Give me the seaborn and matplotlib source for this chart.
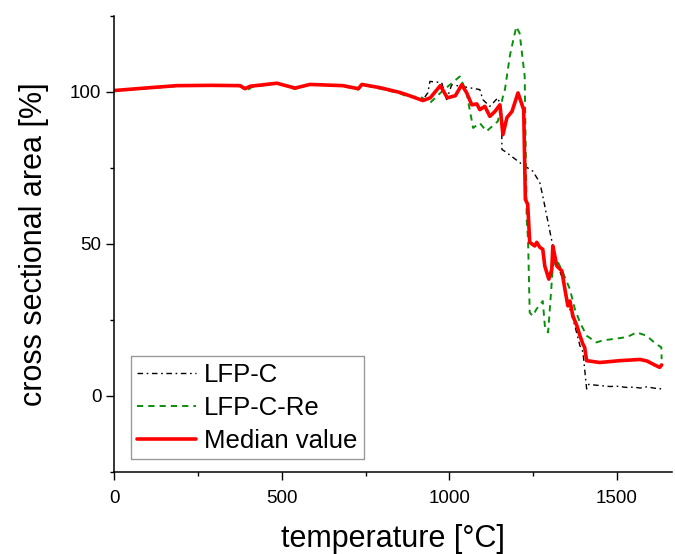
import matplotlib
matplotlib.use("Agg")
import matplotlib.pyplot as plt
import seaborn as sns
import pandas as pd

# ---------------- data ----------------
temp_c = [0, 90, 186, 290, 375, 390, 405, 485, 539, 584, 682, 728, 739, 794,
          851, 881, 921, 936, 942, 977, 992, 1007, 1061, 1091, 1100, 1121, 1145,
          1156, 1157, 1166, 1219, 1249, 1270, 1279, 1305, 1320, 1335, 1360, 1375,
          1390, 1399, 1410, 1416, 1450, 1480, 1500, 1530, 1550, 1570, 1590, 1610,
          1630, 1634]
area_c = [100.3, 101.0, 101.8, 102.0, 101.9, 100.8, 101.6, 102.6, 101.4, 102.3,
          102.0, 101.1, 102.2, 101.1, 99.7, 98.6, 97.3, 99.7, 103.4, 103.0, 97.4,
          102.3, 101.3, 100.7, 97.4, 95.2, 98.0, 94.0, 81.0, 80.4, 76.0, 73.9,
          70.2, 65.7, 51.5, 43.9, 39.5, 28.5, 23.0, 16.5, 14.4, 2.3, 3.8, 3.4,
          3.1, 3.2, 2.8, 2.9, 2.6, 3.0, 2.6, 2.3, 3.4]

temp_re = [0, 90, 186, 290, 375, 395, 410, 485, 539, 584, 682, 728, 739, 794,
           851, 881, 912, 942, 977, 1031, 1051, 1061, 1071, 1091, 1111, 1145,
           1160, 1166, 1181, 1190, 1200, 1210, 1225, 1231, 1235, 1240, 1249, 1260,
           1279, 1286, 1295, 1305, 1309, 1320, 1335, 1360, 1375, 1390, 1410, 1439,
           1460, 1489, 1520, 1539, 1559, 1589, 1618, 1633, 1634]
area_re = [100.5, 101.1, 101.9, 102.1, 101.8, 100.4, 101.5, 102.8, 100.9, 102.4,
           101.9, 100.7, 102.3, 101.0, 99.5, 98.2, 98.5, 96.3, 100.0, 105.0,
           100.0, 94.0, 88.1, 89.7, 87.0, 90.3, 98.5, 100.7, 112.0, 116.5, 121.4,
           119.2, 105.0, 58.0, 51.5, 27.4, 26.3, 28.5, 31.2, 22.0, 20.9, 36.2,
           42.7, 44.9, 41.6, 35.1, 28.5, 24.2, 19.8, 17.6, 18.3, 18.7, 19.2, 19.8,
           20.9, 19.8, 17.0, 16.0, 12.1]

temp_med = [0, 90, 186, 290, 375, 390, 405, 485, 539, 584, 682, 728, 739, 794,
            851, 881, 921, 943, 973, 994, 1018, 1037, 1052, 1067, 1082, 1091,
            1106, 1121, 1136, 1151, 1160, 1172, 1187, 1205, 1222, 1227, 1234,
            1240, 1255, 1261, 1270, 1279, 1285, 1297, 1306, 1309, 1315, 1321,
            1336, 1345, 1354, 1360, 1369, 1381, 1390, 1399, 1404, 1410, 1449,
            1480, 1509, 1540, 1569, 1590, 1613, 1628, 1634]
area_med = [100.4, 101.2, 102.0, 102.1, 102.0, 101.0, 101.8, 102.8, 101.2, 102.4,
            102.0, 101.0, 102.4, 101.3, 99.8, 98.7, 97.1, 98.0, 102.0, 98.0, 98.7,
            102.3, 99.6, 95.7, 96.0, 94.1, 95.2, 91.9, 93.5, 95.7, 85.9, 91.5,
            93.5, 99.6, 94.1, 64.6, 63.0, 50.5, 49.3, 50.5, 48.9, 48.2, 42.7, 38.4,
            41.6, 49.3, 46.0, 42.7, 41.1, 35.1, 29.6, 31.2, 26.3, 23.0, 19.8, 17.0,
            16.0, 11.6, 11.0, 11.3, 11.6, 11.8, 12.0, 11.5, 10.2, 9.4, 10.2]

x_ticks = [0, 500, 1000, 1500]
y_ticks = [0, 50, 100]

# ---------------- plot ----------------
sns.set_theme(style="ticks")
plt.rcParams["font.family"] = ["Liberation Sans", "DejaVu Sans"]
plt.rcParams["text.color"] = "black"

fig = plt.figure(figsize=(6.75, 5.54), dpi=100)
ax = fig.add_axes([0.1696, 0.148, 0.826, 0.8237])

df_c = pd.DataFrame({"t": temp_c, "a": area_c})
df_re = pd.DataFrame({"t": temp_re, "a": area_re})
df_med = pd.DataFrame({"t": temp_med, "a": area_med})

sns.lineplot(data=df_c, x="t", y="a", ax=ax, color="black", linewidth=1.0,
             linestyle=(0, (4, 2.6, 1.2, 2.6)), sort=False, estimator=None,
             label="LFP-C")
sns.lineplot(data=df_re, x="t", y="a", ax=ax, color="#0a8f0a", linewidth=1.4,
             linestyle=(0, (3.2, 2.6)), sort=False, estimator=None,
             label="LFP-C-Re")
sns.lineplot(data=df_med, x="t", y="a", ax=ax, color="#ff0000", linewidth=2.6,
             sort=False, estimator=None, label="Median value")

ax.set_xlim(0, 1665)
ax.set_ylim(-25, 125)
ax.set_xticks(x_ticks)
ax.set_yticks(y_ticks)
ax.set_xticks([250, 750, 1250], minor=True)
ax.set_yticks([-25, 25, 75, 125], minor=True)
ax.tick_params(axis="both", which="major", direction="out", length=6,
               width=1.0, labelsize=13.5, color="black", labelcolor="black")
ax.tick_params(axis="both", which="minor", direction="out", length=2.6,
               width=1.0, color="black")
ax.tick_params(axis="x", which="major", pad=7)
ax.tick_params(axis="y", which="major", pad=3.5)
sns.despine(ax=ax)
for s in ("left", "bottom"):
    ax.spines[s].set_color("black")
    ax.spines[s].set_linewidth(1.1)

ax.set_xlabel("temperature [°C]", fontsize=22, labelpad=12, color="black")
ax.set_ylabel("cross sectional area [%]", fontsize=22, labelpad=15, color="black")

leg = ax.legend(loc="lower left", bbox_to_anchor=(0.029, 0.0285),
                borderaxespad=0, fontsize=18.5, frameon=True, fancybox=False,
                edgecolor="#808080", handlelength=2.3, handletextpad=0.3,
                labelspacing=0.35, borderpad=0.25)
leg.get_frame().set_linewidth(1.0)
for txt in leg.get_texts():
    txt.set_color("black")

fig.savefig("out.png", dpi=100, facecolor="white")
